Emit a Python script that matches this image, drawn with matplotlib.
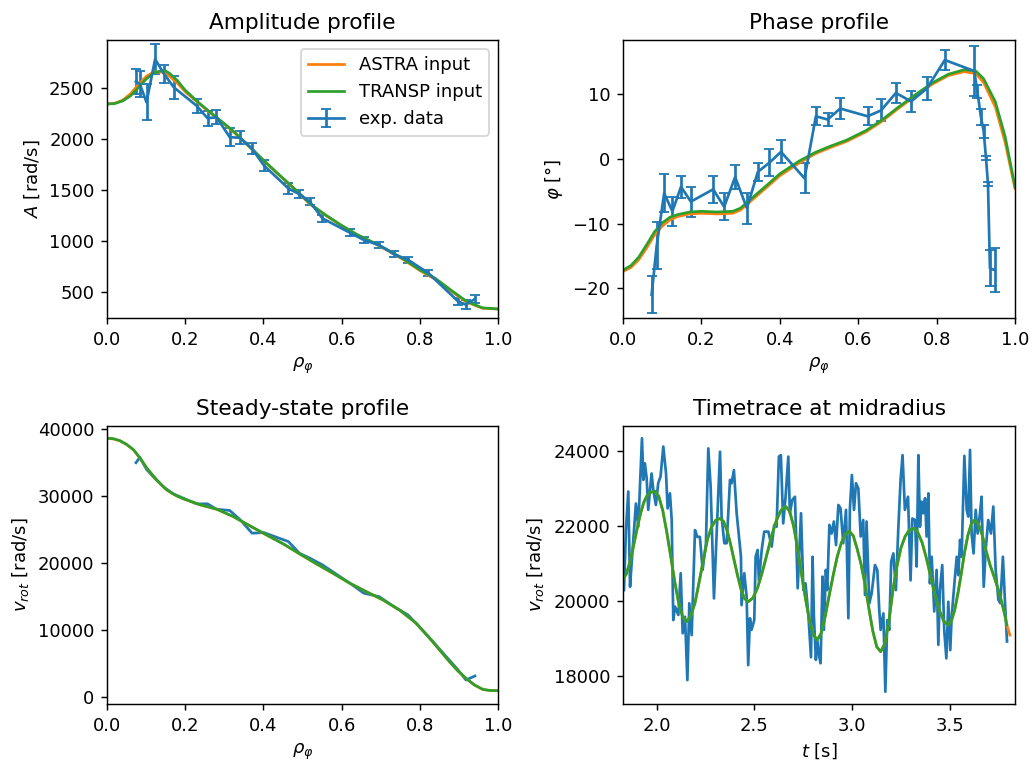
import matplotlib
matplotlib.use("Agg")
import matplotlib.pyplot as plt

# ---- amplitude profile ----
rho_model_amp = [0.0, 0.02, 0.04, 0.06, 0.08, 0.10, 0.12, 0.14, 0.15, 0.16, 0.18, 0.20,
                 0.24, 0.28, 0.32, 0.36, 0.40, 0.44, 0.48, 0.52, 0.56, 0.60, 0.64, 0.68,
                 0.72, 0.76, 0.80, 0.84, 0.88, 0.92, 0.96, 1.0]
amp_transp = [2340, 2345, 2370, 2420, 2500, 2585, 2645, 2668, 2665, 2640, 2570, 2475,
              2335, 2210, 2085, 1940, 1790, 1648, 1508, 1360, 1250, 1150, 1060, 985,
              905, 815, 715, 630, 515, 405, 342, 331]
amp_astra = [2340, 2348, 2378, 2440, 2530, 2610, 2655, 2652, 2640, 2612, 2545, 2460,
             2330, 2205, 2080, 1935, 1785, 1643, 1503, 1356, 1246, 1146, 1056, 981,
             900, 810, 708, 620, 505, 398, 338, 330]

rho_exp_amp = [0.074, 0.084, 0.101, 0.123, 0.146, 0.171, 0.229, 0.257, 0.280, 0.314,
               0.340, 0.371, 0.401, 0.464, 0.492, 0.519, 0.551, 0.621, 0.657, 0.696,
               0.734, 0.770, 0.822, 0.898, 0.918, 0.941]
amp_exp = [2561, 2536, 2357, 2780, 2634, 2503, 2324, 2201, 2210, 2015, 2009, 1902,
           1739, 1512, 1456, 1381, 1219, 1079, 1007, 958, 868, 812, 682, 405, 373, 429]
amp_err = [125, 130, 175, 150, 90, 110, 70, 75, 70, 90, 65, 55, 55, 50, 40, 35, 35,
           35, 30, 30, 30, 30, 30, 35, 45, 35]

# ---- phase profile ----
rho_model_ph = [0.0, 0.02, 0.04, 0.06, 0.08, 0.10, 0.12, 0.14, 0.17, 0.20, 0.24, 0.28,
                0.30, 0.33, 0.37, 0.40, 0.45, 0.49, 0.53, 0.57, 0.62, 0.66, 0.70, 0.745,
                0.79, 0.83, 0.87, 0.90, 0.92, 0.95, 0.975, 1.0]
ph_transp = [-17.2, -16.5, -15.2, -13.3, -11.3, -9.9, -9.0, -8.6, -8.2, -8.1, -8.2, -8.1,
             -7.6, -6.0, -3.9, -2.3, -0.3, 1.0, 2.0, 2.9, 4.4, 6.0, 7.9, 9.9,
             11.8, 13.1, 13.8, 13.6, 12.4, 8.8, 3.4, -4.3]
ph_astra = [-17.4, -16.8, -15.6, -13.8, -11.8, -10.4, -9.4, -8.9, -8.5, -8.4, -8.5, -8.4,
            -7.9, -6.3, -4.2, -2.6, -0.6, 0.8, 1.8, 2.7, 4.2, 5.8, 7.7, 9.7,
            11.6, 12.9, 13.5, 13.2, 11.8, 8.0, 2.5, -4.6]

rho_exp_ph = [0.073, 0.086, 0.105, 0.126, 0.148, 0.173, 0.230, 0.258, 0.286, 0.316,
              0.344, 0.373, 0.403, 0.463, 0.492, 0.522, 0.554, 0.624, 0.658, 0.696,
              0.735, 0.775, 0.821, 0.896, 0.904, 0.913, 0.920, 0.926, 0.931, 0.936, 0.948]
ph_exp = [-21.0, -13.4, -5.3, -8.1, -4.3, -6.6, -4.7, -7.4, -2.8, -7.6, -2.0, -0.6,
          1.1, -3.0, 6.6, 6.1, 7.8, 6.6, 7.5, 10.2, 8.9, 10.9, 15.3, 13.6, 10.4, 6.5,
          4.3, 0.1, -3.9, -16.9, -17.2]
ph_err = [2.9, 3.6, 2.9, 2.2, 1.7, 2.3, 2.1, 2.1, 1.8, 2.4, 1.4, 2.1, 1.8, 2.3, 1.4,
          1.0, 1.6, 1.4, 1.7, 1.5, 1.6, 1.8, 1.6, 3.8, 1.0, 1.2, 1.0, 0.3, 0.3, 2.8, 3.4]

# ---- steady-state profile ----
rho_model_ss = [0.0, 0.017, 0.033, 0.05, 0.068, 0.085, 0.102, 0.115, 0.127, 0.14, 0.153,
                0.166, 0.179, 0.196, 0.22, 0.239, 0.281, 0.323, 0.366, 0.408, 0.451,
                0.493, 0.536, 0.578, 0.621, 0.663, 0.706, 0.748, 0.791, 0.833, 0.876,
                0.897, 0.918, 0.94, 0.961, 0.98, 1.0]
ss_transp = [38680, 38580, 38300, 37750, 36930, 35650, 34190, 33250, 32440, 31650, 30940,
             30450, 30030, 29600, 29100, 28700, 28050, 26950, 25550, 24200, 22860,
             21360, 19870, 18470, 16980, 15720, 14480, 12980, 10990, 8230, 5240,
             3900, 2750, 1750, 1100, 930, 900]
ss_astra = [38650, 38550, 38270, 37720, 36900, 35620, 34170, 33230, 32420, 31630, 30920,
            30430, 30010, 29580, 29080, 28680, 28030, 26930, 25530, 24180, 22840,
            21340, 19850, 18450, 16960, 15700, 14460, 12960, 10970, 8210, 5220,
            3880, 2730, 1740, 1090, 920, 900]
ss_exp = [35000, 35800, 34000, 32600, 31300, 30300, 28850, 28850, 28050, 27850, 26500,
          24460, 24550, 23200, 21470, 20720, 19720, 16980, 15480, 14970, 13470, 12230,
          9000, 4000, 2500, 3100]

# ---- timetrace at midradius ----
t_exp = [1.833, 1.843, 1.855, 1.864, 1.872, 1.894, 1.906, 1.925, 1.932, 1.940, 1.949,
         1.957, 1.974, 1.983, 1.996, 2.008, 2.020, 2.034, 2.048, 2.056, 2.068, 2.077,
         2.085, 2.094, 2.111, 2.123, 2.133, 2.145, 2.157, 2.167, 2.179, 2.196, 2.208,
         2.221, 2.235, 2.252, 2.264, 2.276, 2.293,
         2.324, 2.332, 2.346, 2.358, 2.375, 2.383, 2.395, 2.409, 2.421, 2.431, 2.434,
         2.448, 2.460, 2.468, 2.477, 2.485, 2.499, 2.506, 2.516, 2.523, 2.537, 2.550,
         2.571, 2.588, 2.601, 2.613, 2.625, 2.635, 2.647, 2.659, 2.673, 2.681, 2.693,
         2.707, 2.721, 2.738, 2.750, 2.761, 2.775, 2.789,
         2.797, 2.804, 2.814, 2.821, 2.831, 2.838, 2.848, 2.855, 2.865, 2.872, 2.883,
         2.894, 2.906, 2.917, 2.929, 2.940, 2.954, 2.968, 2.980, 2.988, 2.998, 3.009,
         3.019, 3.031, 3.043, 3.056, 3.065, 3.073, 3.087, 3.099, 3.116, 3.128, 3.138,
         3.145, 3.159, 3.169, 3.179, 3.189, 3.199, 3.210, 3.223, 3.235, 3.247, 3.257,
         3.269, 3.285, 3.298,
         3.307, 3.321, 3.329, 3.338, 3.346, 3.355, 3.363, 3.372, 3.380, 3.389, 3.397,
         3.406, 3.419, 3.431, 3.440, 3.448, 3.460, 3.470, 3.481, 3.491, 3.501, 3.508,
         3.525, 3.534, 3.542, 3.551, 3.559, 3.573, 3.585, 3.593, 3.602, 3.610, 3.620,
         3.631, 3.641, 3.653, 3.661, 3.672, 3.682, 3.695, 3.709, 3.721, 3.733, 3.747,
         3.757, 3.770, 3.781, 3.791]
v_exp = [20290, 21890, 22920, 20380, 21000, 22600, 21980, 24340, 23230, 23670, 23270,
         22430, 23400, 22960, 22560, 23140, 23320, 24120, 23400, 22470, 22870, 22160,
         19490, 19850, 19630, 20740, 19140, 19580, 17890, 19940, 19090, 21890, 21710,
         21710, 20830, 21540, 24070, 23050, 20070,
         23980, 22250, 21540, 21540, 23230, 23140, 23490, 22340, 21720, 21180, 19890,
         20740, 20120, 18290, 19540, 19230, 19490, 21180, 21360, 20520, 21360, 21850,
         21850, 21450, 22030, 21980, 23850, 23890, 22070, 22780, 23850, 22340, 22690,
         22780, 20340, 22340, 20290, 20470, 19670, 18500,
         21180, 19580, 18430, 18960, 18520, 18340, 20650, 19230, 20830, 20290, 22030,
         21800, 22120, 21490, 22560, 22470, 21540, 22430, 19540, 22470, 23360, 22430,
         23140, 23000, 21720, 22160, 20160, 22120, 19940, 20200, 20960, 20830, 19760,
         19230, 19670, 17580, 19490, 19230, 21050, 21270, 20290, 21890, 23230, 23890,
         22430, 22780, 20550,
         22200, 22160, 20920, 23890, 21980, 22650, 22340, 22740, 21720, 22870, 20470,
         21180, 19720, 20830, 18830, 20290, 20960, 19230, 18470, 19980, 18690, 19580,
         20650, 21180, 20690, 21630, 21180, 23870, 22430, 22250, 24030, 21800, 21270,
         22430, 21800, 22340, 22780, 20380, 21360, 22160, 21800, 22520, 20830, 20030,
         19940, 21180, 19940, 18920]

t_model = [1.830, 1.845, 1.860, 1.875, 1.890, 1.905, 1.920, 1.935, 1.950, 1.965, 1.990,
           2.010, 2.031, 2.051, 2.072, 2.092, 2.112, 2.133, 2.153,
           2.174, 2.196, 2.217, 2.239, 2.260, 2.281, 2.303, 2.324,
           2.342, 2.360, 2.378, 2.396, 2.414, 2.432, 2.450, 2.468,
           2.492, 2.516, 2.540, 2.564, 2.588, 2.612, 2.636, 2.660,
           2.680, 2.700, 2.720, 2.740, 2.761, 2.781, 2.801, 2.821,
           2.842, 2.862, 2.882, 2.903, 2.923, 2.944, 2.964, 2.985,
           3.005, 3.025, 3.045, 3.065, 3.085, 3.105, 3.125, 3.145,
           3.166, 3.187, 3.208, 3.229, 3.249, 3.270, 3.291, 3.312,
           3.334, 3.357, 3.379, 3.401, 3.423, 3.446, 3.468, 3.490,
           3.507, 3.524, 3.541, 3.558, 3.574, 3.591, 3.608, 3.625,
           3.645, 3.665, 3.685, 3.705, 3.725, 3.745, 3.765, 3.780, 3.790]
v_transp = [20600, 20720, 20980, 21300, 21680, 22050, 22380, 22640, 22800, 22890, 22930,
            22800, 22420, 21860, 21190, 20530, 19960, 19580, 19450,
            19600, 19950, 20500, 21100, 21650, 21980, 22160, 22200,
            22120, 21880, 21510, 21090, 20670, 20300, 20060, 19980,
            20080, 20350, 20770, 21250, 21740, 22150, 22420, 22520,
            22390, 22000, 21420, 20740, 20060, 19480, 19100, 18960,
            19150, 19600, 20150, 20700, 21180, 21550, 21780, 21860,
            21740, 21390, 20980, 20450, 19800, 19200, 18780, 18650,
            18850, 19450, 20300, 20950, 21420, 21720, 21890, 21940,
            21840, 21560, 21140, 20650, 20160, 19740, 19460, 19360,
            19470, 19770, 20230, 20760, 21300, 21750, 22050, 22160,
            22050, 21750, 21320, 20950, 20650, 20330, 19950, 19620, 19360]
t_astra = t_model + [3.806]
v_astra = v_transp + [19090]

fig = plt.figure(figsize=(1033 / 130, 763 / 130), dpi=130)
ax1 = fig.add_axes([0.1036, 0.5832, 0.3785, 0.3644])
ax2 = fig.add_axes([0.6031, 0.5832, 0.3795, 0.3644])
ax3 = fig.add_axes([0.1036, 0.0773, 0.3785, 0.3644])
ax4 = fig.add_axes([0.6031, 0.0773, 0.3795, 0.3644])

# amplitude
ax1.errorbar(rho_exp_amp, amp_exp, yerr=amp_err, capsize=3, color="C0", label="exp. data")
ax1.plot(rho_model_amp, amp_astra, color="C1", label="ASTRA input")
ax1.plot(rho_model_amp, amp_transp, color="C2", label="TRANSP input")
ax1.set_title("Amplitude profile")
ax1.set_xlabel(r"$\rho_\varphi$")
ax1.set_ylabel(r"$A$ [rad/s]")
ax1.set_xlim(0, 1)
ax1.set_ylim(242, 2968)
ax1.legend(loc="upper right")

# phase
ax2.errorbar(rho_exp_ph, ph_exp, yerr=ph_err, capsize=3, color="C0")
ax2.plot(rho_model_ph, ph_astra, color="C1")
ax2.plot(rho_model_ph, ph_transp, color="C2")
ax2.set_title("Phase profile")
ax2.set_xlabel(r"$\rho_\varphi$")
ax2.set_ylabel(r"$\varphi$ [°]")
ax2.set_xlim(0, 1)
ax2.set_ylim(-24.6, 18.4)

# steady state
ax3.plot(rho_exp_amp, ss_exp, color="C0")
ax3.plot(rho_model_ss, ss_astra, color="C1")
ax3.plot(rho_model_ss, ss_transp, color="C2")
ax3.set_title("Steady-state profile")
ax3.set_xlabel(r"$\rho_\varphi$")
ax3.set_ylabel(r"$v_{rot}$ [rad/s]")
ax3.set_xlim(0, 1)
ax3.set_ylim(-1092, 40494)

# timetrace
ax4.plot(t_exp, v_exp, color="C0")
ax4.plot(t_astra, v_astra, color="C1")
ax4.plot(t_model, v_transp, color="C2")
ax4.set_title("Timetrace at midradius")
ax4.set_xlabel(r"$t$ [s]")
ax4.set_ylabel(r"$v_{rot}$ [rad/s]")
ax4.set_xlim(1.828, 3.832)
ax4.set_ylim(17253, 24667)
ax4.set_xticks([2.0, 2.5, 3.0, 3.5])

fig.savefig("out.png", dpi=130)
